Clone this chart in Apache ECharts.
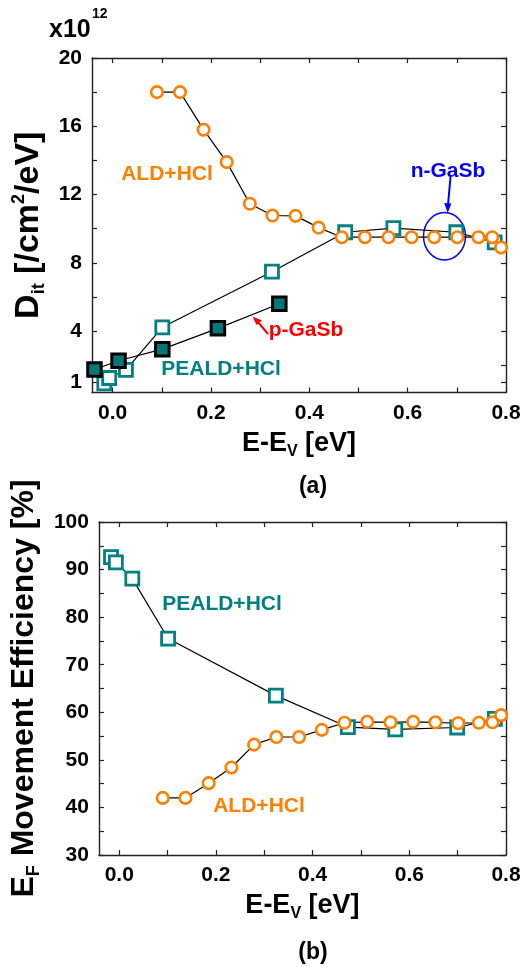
<!DOCTYPE html>
<html><head><meta charset="utf-8">
<script src="https://cdn.jsdelivr.net/npm/echarts@6/dist/echarts.min.js"></script>
<style>html,body{margin:0;padding:0;background:#fff}#c{width:525px;height:967px}</style>
</head><body><div id="c"></div>
<script>
// ---- data ----
const energyALD = [0.090, 0.137, 0.185, 0.232, 0.279, 0.325, 0.372, 0.419, 0.466, 0.513, 0.561, 0.608, 0.654, 0.701, 0.744, 0.772, 0.790];
const ditALD    = [18.0, 18.0, 15.8, 13.9, 11.46, 10.77, 10.75, 10.06, 9.5, 9.5, 9.5, 9.5, 9.5, 9.5, 9.5, 9.5, 8.9];
const effALD    = [42.0, 42.0, 45.1, 48.4, 53.2, 54.8, 54.8, 56.3, 57.8, 58.0, 57.9, 58.0, 57.9, 57.7, 57.8, 57.9, 59.4];
const energyPEALD = [-0.017, -0.007, 0.027, 0.101, 0.324, 0.473, 0.571, 0.699, 0.777];
const ditPEALD    = [0.93, 1.25, 1.72, 4.22, 7.48, 9.79, 10.03, 9.79, 9.2];
const effPEALD    = [92.6, 91.5, 88.1, 75.5, 63.5, 56.9, 56.4, 56.8, 58.6];
const energyPGaSb = [-0.037, 0.012, 0.101, 0.214, 0.339];
const ditPGaSb    = [1.75, 2.26, 2.94, 4.16, 5.6];
const xTicks = [0, 0.1, 0.2, 0.3, 0.4, 0.5, 0.6, 0.7, 0.8];
const xLabels = [0, 0.2, 0.4, 0.6, 0.8];
const ditTicks = [1, 2, 4, 6, 8, 10, 12, 14, 16, 18, 20];
const ditLabels = [1, 4, 8, 12, 16, 20];
const effTicks = [30, 35, 40, 45, 50, 55, 60, 65, 70, 75, 80, 85, 90, 95, 100];
const effLabels = [30, 40, 50, 60, 70, 80, 90, 100];

const F = "'Liberation Sans', Arial, sans-serif";
const ORANGE = '#ff7f00', TEAL = '#008080', AX = '#222';

function xAx(grid, pos, showLabel, name) {
  return {
    type: 'value', gridIndex: grid, position: pos, min: -0.042, max: 0.8,
    axisLine: {show: true, onZero: false, lineStyle: {color: AX, width: 1.4}},
    axisTick: {show: true, inside: true, length: 5, customValues: xTicks, lineStyle: {color: AX, width: 1.2}},
    axisLabel: {show: showLabel, customValues: xLabels, formatter: v => v.toFixed(1), margin: 10,
      color: '#000', fontSize: 21, fontWeight: 'bold', fontFamily: F},
    splitLine: {show: false},
    name: name || '', nameLocation: 'middle', nameGap: 35,
    nameTextStyle: {color: '#000', fontSize: 27, fontWeight: 'bold', fontFamily: F,
      rich: {m: {fontSize: 27, fontWeight: 'bold', fontFamily: F, lineHeight: 32},
             s: {fontSize: 16, fontWeight: 'bold', fontFamily: F, lineHeight: 13, verticalAlign: 'bottom'}}}
  };
}
function yAx(grid, pos, showLabel, min, max, ticks, labels, name, gap, fs) {
  return {
    type: 'value', gridIndex: grid, position: pos, min: min, max: max,
    axisLine: {show: true, onZero: false, lineStyle: {color: AX, width: 1.4}},
    axisTick: {show: true, inside: true, length: 5, customValues: ticks, lineStyle: {color: AX, width: 1.2}},
    axisLabel: {show: showLabel, customValues: labels, margin: 10,
      color: '#000', fontSize: 21, fontWeight: 'bold', fontFamily: F},
    splitLine: {show: false},
    name: name || '', nameLocation: 'middle', nameRotate: 90, nameGap: gap || 40,
    nameTextStyle: {color: '#000', fontSize: fs || 30, fontWeight: 'bold', fontFamily: F,
      rich: {m: {fontSize: fs || 30, fontWeight: 'bold', fontFamily: F, lineHeight: 38},
             s: {fontSize: 18, fontWeight: 'bold', fontFamily: F, lineHeight: 17, verticalAlign: 'bottom'},
             p: {fontSize: 18, fontWeight: 'bold', fontFamily: F, lineHeight: 17, verticalAlign: 'top'}}}
  };
}
const pairs = (xs, ys) => xs.map((x, i) => [x, ys[i]]);
const lineS = {color: '#000', width: 1.2};

const chart = echarts.init(document.getElementById('c'), null, {renderer: 'canvas'});
chart.setOption({
  animation: false,
  backgroundColor: '#fff',
  grid: [
    {left: 92, top: 58, width: 414, height: 334.5},
    {left: 93, top: 522, width: 413, height: 333}
  ],
  xAxis: [
    xAx(0, 'bottom', true, '{m|E-E}{s|V}{m| [eV]}'),
    xAx(0, 'top', false),
    xAx(1, 'bottom', true, '{m|E-E}{s|V}{m| [eV]}'),
    xAx(1, 'top', false)
  ],
  yAxis: [
    yAx(0, 'left', true, 0.4, 20, ditTicks, ditLabels, '{m|D}{s|it}{m| [/cm}{p|2}{m|/eV]}', 37, 34),
    yAx(0, 'right', false, 0.4, 20, ditTicks, ditLabels),
    yAx(1, 'left', true, 30, 100, effTicks, effLabels, '{m|E}{s|F}{m| Movement Efficiency [%]}', 53, 32),
    yAx(1, 'right', false, 30, 100, effTicks, effLabels)
  ],
  series: [
    {name: 'PEALD+HCl', type: 'line', xAxisIndex: 0, yAxisIndex: 0, data: pairs(energyPEALD, ditPEALD),
      symbol: 'rect', symbolSize: 13, itemStyle: {color: '#fff', borderColor: TEAL, borderWidth: 2.8},
      lineStyle: lineS, emphasis: {disabled: true}},
    {name: 'p-GaSb', type: 'line', xAxisIndex: 0, yAxisIndex: 0, data: pairs(energyPGaSb, ditPGaSb),
      symbol: 'rect', symbolSize: 13.5, itemStyle: {color: '#007878', borderColor: '#000', borderWidth: 3},
      lineStyle: lineS, emphasis: {disabled: true}},
    {name: 'ALD+HCl', type: 'line', xAxisIndex: 0, yAxisIndex: 0, data: pairs(energyALD, ditALD),
      symbol: 'circle', symbolSize: 11.5, itemStyle: {color: '#fff', borderColor: ORANGE, borderWidth: 2.6},
      lineStyle: lineS, emphasis: {disabled: true}},
    {name: 'PEALD+HCl (b)', type: 'line', xAxisIndex: 2, yAxisIndex: 2, data: pairs(energyPEALD, effPEALD),
      symbol: 'rect', symbolSize: 13, itemStyle: {color: '#fff', borderColor: TEAL, borderWidth: 2.8},
      lineStyle: lineS, emphasis: {disabled: true}},
    {name: 'ALD+HCl (b)', type: 'line', xAxisIndex: 2, yAxisIndex: 2, data: pairs(energyALD, effALD),
      symbol: 'circle', symbolSize: 11.5, itemStyle: {color: '#fff', borderColor: ORANGE, borderWidth: 2.6},
      lineStyle: lineS, emphasis: {disabled: true}}
  ],
  graphic: [
    {type: 'text', x: 49, y: 30, style: {text: 'x10', fill: '#000', font: "bold 25px " + F, align: 'left', verticalAlign: 'middle'}},
    {type: 'text', x: 92, y: 14, style: {text: '12', fill: '#000', font: "bold 14px " + F, align: 'left', verticalAlign: 'middle'}},
    {type: 'text', x: 167, y: 174, style: {text: 'ALD+HCl', fill: ORANGE, font: "bold 21px " + F, align: 'center', verticalAlign: 'middle'}},
    {type: 'text', x: 448, y: 171, style: {text: 'n-GaSb', fill: '#0000ff', font: "bold 21px " + F, align: 'center', verticalAlign: 'middle'}},
    {type: 'line', shape: {x1: 450.5, y1: 177, x2: 448, y2: 205}, style: {stroke: '#0000ff', lineWidth: 2}},
    {type: 'polygon', shape: {points: [[447.7, 213], [444.2, 203], [451.4, 203.5]]}, style: {fill: '#0000ff'}},
    {type: 'ellipse', shape: {cx: 444.5, cy: 236.3, rx: 21, ry: 23.7}, style: {fill: 'none', stroke: '#0000ff', lineWidth: 1.5}},
    {type: 'text', x: 306, y: 330, style: {text: 'p-GaSb', fill: '#ff0000', font: "bold 21px " + F, align: 'center', verticalAlign: 'middle'}},
    {type: 'line', shape: {x1: 268, y1: 334, x2: 258, y2: 322}, style: {stroke: '#ff0000', lineWidth: 2}},
    {type: 'polygon', shape: {points: [[252.5, 316.5], [262, 320.5], [256.5, 325]]}, style: {fill: '#ff0000'}},
    {type: 'text', x: 221, y: 369, style: {text: 'PEALD+HCl', fill: TEAL, font: "bold 21px " + F, align: 'center', verticalAlign: 'middle'}},
    {type: 'text', x: 313, y: 487, style: {text: '(a)', fill: '#000', font: "bold 23px " + F, align: 'center', verticalAlign: 'middle'}},
    {type: 'text', x: 222, y: 604, style: {text: 'PEALD+HCl', fill: TEAL, font: "bold 21px " + F, align: 'center', verticalAlign: 'middle'}},
    {type: 'text', x: 259, y: 806, style: {text: 'ALD+HCl', fill: ORANGE, font: "bold 21px " + F, align: 'center', verticalAlign: 'middle'}},
    {type: 'text', x: 313, y: 953, style: {text: '(b)', fill: '#000', font: "bold 23px " + F, align: 'center', verticalAlign: 'middle'}}
  ]
});
</script></body></html>
